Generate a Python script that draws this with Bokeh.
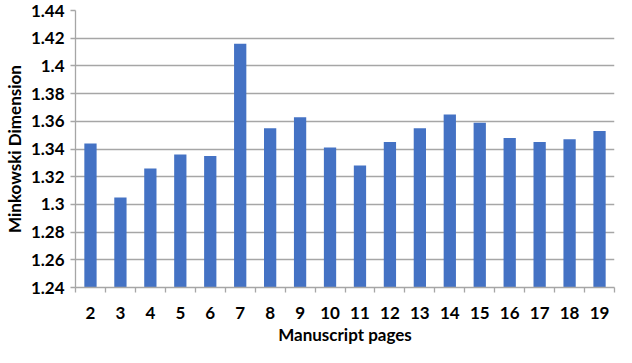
from bokeh.plotting import figure
from bokeh.models import Range1d, FixedTicker, CustomJSTickFormatter, ColumnDataSource
from bokeh.embed import file_html
from bokeh.resources import INLINE

pages = [2, 3, 4, 5, 6, 7, 8, 9, 10, 11, 12, 13, 14, 15, 16, 17, 18, 19]
values = [1.344, 1.305, 1.326, 1.336, 1.335, 1.416, 1.355, 1.363, 1.341, 1.328,
          1.345, 1.355, 1.365, 1.359, 1.348, 1.345, 1.347, 1.353]
y_ticks = [1.24, 1.26, 1.28, 1.30, 1.32, 1.34, 1.36, 1.38, 1.40, 1.42, 1.44]
x_title = "Manuscript pages"
y_title = "Minkowski Dimension"

FONT = "Lato"
GRID = "#a6a6a6"

src = ColumnDataSource(dict(x=pages, top=values))

p = figure(width=616, height=347, output_backend="svg", toolbar_location=None,
           x_range=Range1d(pages[0] - 0.5, pages[-1] + 0.5),
           y_range=Range1d(y_ticks[0], y_ticks[-1]),
           min_border_left=69, min_border_right=2, min_border_top=10, min_border_bottom=56)
p.outline_line_color = None
p.background_fill_color = "white"

p.vbar(x="x", top="top", bottom=y_ticks[0], width=0.41, source=src,
       fill_color="#4472C4", line_color=None)

p.xgrid.grid_line_color = None
p.ygrid.grid_line_color = GRID
p.ygrid.grid_line_width = 1.3

xa = p.xaxis[0]
xa.ticker = FixedTicker(ticks=pages, minor_ticks=[v - 0.5 for v in pages] + [pages[-1] + 0.5])
xa.major_tick_out = 0
xa.major_tick_in = 0
xa.minor_tick_out = 5
xa.minor_tick_in = 0
xa.minor_tick_line_color = GRID
xa.minor_tick_line_width = 1.3
xa.axis_line_color = GRID
xa.axis_line_width = 1.3
xa.major_label_text_font = FONT
xa.major_label_text_font_style = "bold"
xa.major_label_text_font_size = "17px"
xa.major_label_text_color = "black"
xa.major_label_standoff = 14
xa.axis_label = x_title
xa.axis_label_text_font = FONT
xa.axis_label_text_font_style = "bold"
xa.axis_label_text_font_size = "17px"
xa.axis_label_text_color = "black"
xa.axis_label_standoff = 2

ya = p.yaxis[0]
ya.ticker = FixedTicker(ticks=y_ticks, minor_ticks=[])
ya.formatter = CustomJSTickFormatter(code="return String(Number(tick.toFixed(2)));")
ya.major_tick_out = 5
ya.major_tick_in = 0
ya.major_tick_line_color = GRID
ya.major_tick_line_width = 1.3
ya.minor_tick_out = 0
ya.minor_tick_in = 0
ya.axis_line_color = GRID
ya.axis_line_width = 1.3
ya.major_label_text_font = FONT
ya.major_label_text_font_style = "bold"
ya.major_label_text_font_size = "17px"
ya.major_label_text_color = "black"
ya.major_label_standoff = 6
ya.axis_label = y_title
ya.axis_label_text_font = FONT
ya.axis_label_text_font_style = "bold"
ya.axis_label_text_font_size = "17px"
ya.axis_label_text_color = "black"
ya.axis_label_standoff = 3

open("out.html", "w").write(file_html(p, INLINE))
